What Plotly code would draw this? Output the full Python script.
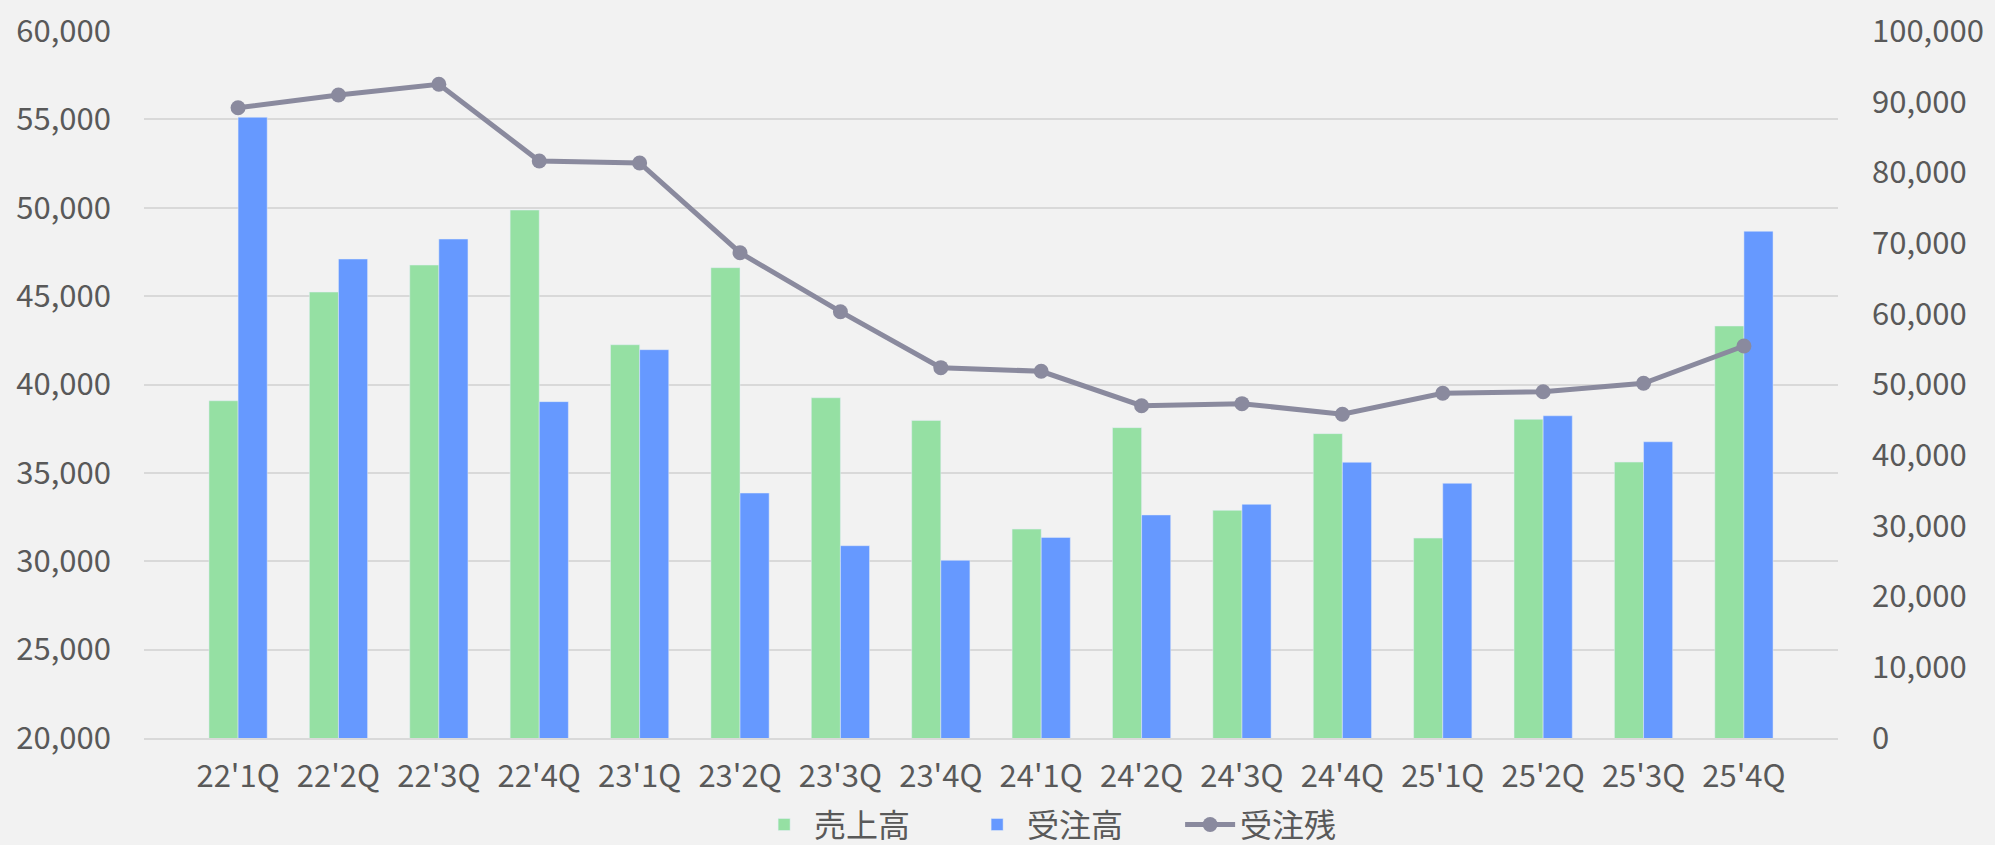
import plotly.graph_objects as go

quarters = ["22'1Q", "22'2Q", "22'3Q", "22'4Q", "23'1Q", "23'2Q", "23'3Q", "23'4Q",
            "24'1Q", "24'2Q", "24'3Q", "24'4Q", "25'1Q", "25'2Q", "25'3Q", "25'4Q"]

sales = [39080, 45230, 46760, 49870, 42250, 46610, 39250, 37970,
         31820, 37560, 32880, 37220, 31310, 38030, 35610, 43310]

orders = [55120, 47100, 48230, 39030, 41970, 33860, 30880, 30050,
          31350, 32620, 33220, 35600, 34410, 38230, 36760, 48670]

backlog = [89150, 90950, 92460, 81610, 81330, 68640, 60300, 52380,
           51870, 47000, 47290, 45790, 48760, 48980, 50170, 55450]

font_family = "Noto Sans CJK JP, sans-serif"
text_color = "#595959"
grid_color = "#D9D9D9"

fig = go.Figure()
fig.add_trace(go.Bar(x=quarters, y=sales, name="売上高", marker_color="#95E0A3"))
fig.add_trace(go.Bar(x=quarters, y=orders, name="受注高", marker_color="#6699FF"))
fig.add_trace(go.Scatter(x=quarters, y=backlog, name="受注残", yaxis="y2",
                         mode="lines+markers",
                         line=dict(color="#8A8A9E", width=5),
                         marker=dict(color="#8A8A9E", size=15)))

fig.update_layout(
    width=1995, height=845,
    paper_bgcolor="#F2F2F2", plot_bgcolor="#F2F2F2",
    margin=dict(l=144, r=157, t=31, b=107),
    barmode="group", bargap=0.42, bargroupgap=0,
    font=dict(family=font_family, size=31, color=text_color),
    xaxis=dict(showgrid=False, showline=True, linecolor=grid_color, linewidth=2,
               ticks="", ticklabelstandoff=10, automargin=False),
    yaxis=dict(range=[20000, 60000], dtick=5000, tickformat=",",
               gridcolor=grid_color, gridwidth=2, zeroline=False,
               ticklabelstandoff=32, automargin=False),
    yaxis2=dict(range=[0, 100000], dtick=10000, tickformat=",",
                overlaying="y", side="right", showgrid=False, zeroline=False,
                ticklabelstandoff=33, automargin=False),
    legend=dict(orientation="h", xref="container", yref="container",
                x=0.378, xanchor="left", y=0.024, yanchor="middle",
                font=dict(size=32), bgcolor="rgba(0,0,0,0)",
                itemwidth=50, entrywidth=148, entrywidthmode="pixels"),
)

fig.write_html("out.html", config={"displayModeBar": False},
               post_script="document.body.style.margin='0';")
